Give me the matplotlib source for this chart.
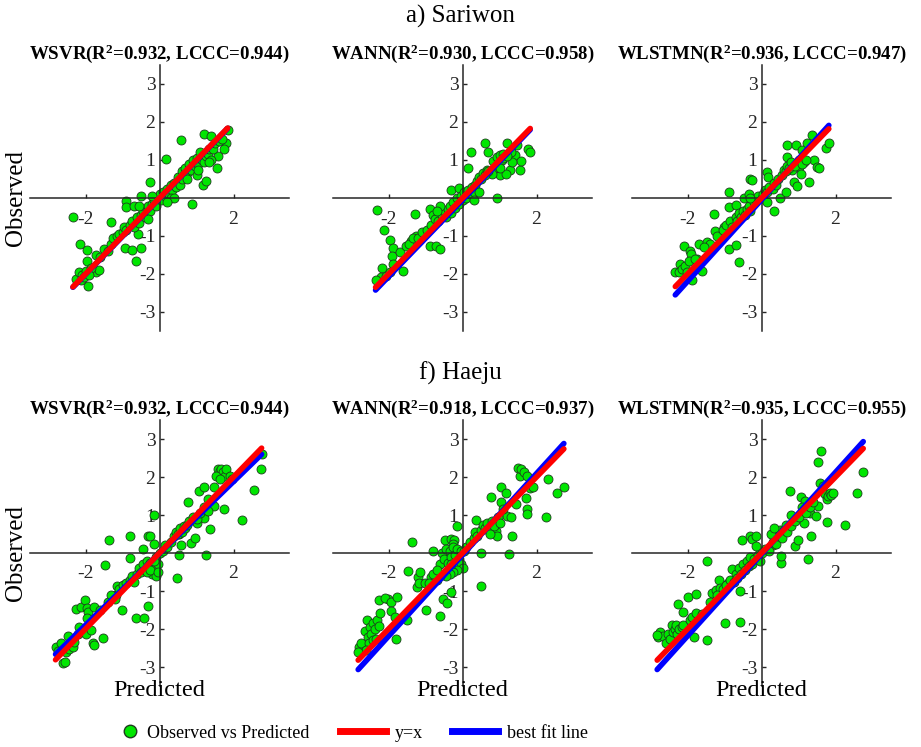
import numpy as np
import matplotlib.pyplot as plt
from matplotlib.lines import Line2D

plt.rcParams['font.family'] = ['Liberation Serif', 'DejaVu Serif']
plt.rcParams['mathtext.fontset'] = 'custom'
plt.rcParams['mathtext.rm'] = 'Liberation Serif:bold'
plt.rcParams['mathtext.it'] = 'Liberation Serif:bold'
plt.rcParams['mathtext.bf'] = 'Liberation Serif:bold'
plt.rcParams['axes.unicode_minus'] = False

stations = ['a) Sariwon', 'f) Haeju']
models = ['WSVR', 'WANN', 'WLSTMN']
r2 = [[0.932, 0.930, 0.936], [0.932, 0.918, 0.935]]
lccc = [[0.944, 0.958, 0.947], [0.944, 0.937, 0.955]]
# best fit lines
fit_slope = [[1.0, 1.01, 1.075], [0.945, 1.07, 1.077]]
fit_intercept = [[-0.01, -0.05, -0.045], [-0.01, -0.05, -0.03]]

# (predicted, observed) pairs
sariwon_wsvr = [
    (-2.34, -0.50), (-0.91, -0.09), (-0.91, -0.24), (-0.68, -0.21), (-0.50, 0.05), (-0.27, 0.42),
    (0.18, 1.03), (0.59, 1.52), (0.89, -0.17), (1.18, 0.34), (1.27, 0.46), (1.21, 1.69),
    (1.39, 1.63), (1.56, 0.79), (1.59, 1.10), (1.81, 1.44), (1.75, 1.28), (-1.32, -0.62),
    (-0.93, -1.32), (-0.73, -1.37), (-0.63, -1.65), (-0.50, -1.31), (-0.59, -0.95), (-2.15, -1.22),
    (-1.97, -1.36), (-1.92, -2.32), (-1.72, -1.96), (-1.63, -1.90), (-1.72, -1.50), (-1.95, -1.66),
    (-2.27, -2.12), (-2.18, -1.94), (-2.09, -2.03), (-2.13, -2.16), (-2.00, -1.92), (-2.04, -2.07),
    (-1.86, -1.85), (-1.90, -2.03), (-1.60, -1.55), (-1.50, -1.35), (-1.40, -1.40), (-1.30, -1.20),
    (-1.25, -1.05), (-1.15, -1.00), (-1.10, -0.95), (-1.00, -0.90), (-0.95, -0.75), (-0.90, -0.85),
    (-0.80, -0.70), (-0.75, -0.60), (-0.70, -0.75), (-0.60, -0.50), (-0.55, -0.65), (-0.50, -0.45),
    (-0.45, -0.35), (-0.40, -0.50), (-0.35, -0.30), (-0.30, -0.20), (-0.25, -0.35), (-0.20, -0.15),
    (-0.15, -0.05), (-0.10, -0.20), (-0.05, 0.00), (0.00, 0.10), (0.05, -0.05), (0.10, 0.15),
    (0.15, 0.05), (0.20, 0.25), (0.25, 0.10), (0.30, 0.35), (0.35, 0.20), (0.40, 0.40),
    (0.45, 0.30), (0.50, 0.55), (0.55, 0.35), (0.60, 0.70), (0.65, 0.60), (0.70, 0.80),
    (0.75, 0.65), (0.80, 0.90), (0.85, 0.75), (0.90, 1.00), (0.95, 0.85), (1.00, 1.05),
    (1.05, 0.90), (1.10, 1.20), (1.15, 1.00), (1.20, 0.95), (1.25, 1.10), (1.30, 1.15),
    (1.35, 1.30), (1.40, 1.00), (1.45, 1.30), (1.50, 1.45), (1.60, 1.50), (1.70, 1.55),
    (1.35, 0.95), (0.30, 0.00), (0.40, 0.00), (0.20, -0.10), (-0.20, 0.05), (-0.55, -0.20),
    (-0.30, -0.55), (0.60, 0.50), (0.75, 0.50), (1.00, 0.60), (1.05, 0.75), (1.84, 1.80),
]
sariwon_wann = [
    (-2.32, -0.31), (-2.11, -0.83), (-1.95, -1.10), (-1.88, -1.32), (-1.90, -1.52), (-1.88, -1.74),
    (-2.17, -1.83), (-2.20, -2.09), (-2.06, -2.05), (-1.97, -1.96), (-1.70, -1.41), (-1.61, -1.92),
    (-1.29, -0.41), (-1.25, -0.99), (-1.52, -1.27), (-1.38, -1.12), (-0.89, -1.25), (-0.71, -1.25),
    (-0.62, -1.34), (-0.89, -0.28), (-0.80, -0.46), (-0.30, 0.20), (-0.09, 0.26), (0.15, 0.78),
    (0.22, 1.22), (0.61, 1.44), (0.70, 1.20), (0.92, 0.00), (1.01, 0.60), (1.19, 1.44),
    (1.28, 0.73), (1.42, 1.13), (1.56, 0.73), (1.57, 0.97), (1.77, 1.29), (1.83, 1.22),
    (1.47, 1.39), (1.18, 0.62), (0.83, 0.97), (0.92, 1.09), (1.01, 1.13), (0.88, 0.78),
    (0.97, 0.86), (1.06, 1.00), (1.10, 1.17), (0.79, 0.64), (1.01, 0.78), (-1.45, -1.20),
    (-1.35, -1.05), (-1.20, -1.05), (-1.10, -0.90), (-0.95, -0.85), (-0.85, -0.70), (-0.75, -0.55),
    (-0.65, -0.60), (-0.55, -0.45), (-0.50, -0.35), (-0.45, -0.50), (-0.40, -0.30), (-0.35, -0.20),
    (-0.30, -0.40), (-0.25, -0.10), (-0.20, -0.25), (-0.15, 0.00), (-0.10, -0.15), (-0.05, 0.05),
    (0.00, -0.05), (0.05, 0.15), (0.10, 0.00), (0.15, 0.20), (0.20, 0.10), (0.25, 0.30),
    (0.30, 0.15), (0.35, 0.35), (0.40, 0.45), (0.45, 0.55), (0.50, 0.50), (0.55, 0.65),
    (0.60, 0.60), (0.65, 0.75), (0.70, 0.70), (1.30, 1.20), (1.35, 0.95), (1.10, 1.05),
    (1.20, 1.10), (-0.60, -0.20), (-0.70, -0.35), (0.30, -0.05), (0.45, 0.15), (-2.35, -2.15),
]
sariwon_wlstmn = [
    (-2.33, -1.94), (-2.24, -1.96), (-2.20, -1.74), (-2.15, -1.87), (-2.06, -1.78), (-2.01, -1.96),
    (-2.10, -1.25), (-1.94, -1.39), (-1.90, -1.47), (-1.88, -2.15), (-1.97, -1.65), (-1.70, -1.21),
    (-1.61, -1.92), (-1.73, -1.61), (-1.47, -1.17), (-1.38, -1.21), (-1.29, -0.41), (-1.25, -0.86),
    (-1.11, -0.99), (-1.02, -0.77), (-0.89, -1.34), (-0.89, 0.16), (-0.89, -0.24), (-0.70, -1.24),
    (-0.61, -1.69), (-0.70, -0.19), (-0.48, 0.00), (-0.30, 0.49), (-0.25, 0.47), (-0.34, 0.11),
    (0.15, 0.69), (0.18, 0.56), (0.33, -0.33), (0.51, 0.00), (0.65, 0.16), (0.70, 1.39),
    (0.70, 1.09), (0.92, 1.39), (0.88, 0.41), (0.97, 0.32), (1.10, 1.26), (1.24, 1.44),
    (1.28, 0.42), (1.37, 1.66), (1.42, 1.00), (1.51, 0.82), (1.55, 0.78), (1.73, 1.31),
    (1.82, 1.44), (1.15, 0.95), (1.01, 0.82), (0.83, 0.73), (1.06, 0.64), (-1.20, -1.00),
    (-1.05, -0.85), (-0.95, -0.70), (-0.85, -0.60), (-0.80, -0.75), (-0.70, -0.50), (-0.65, -0.60),
    (-0.60, -0.40), (-0.55, -0.50), (-0.50, -0.35), (-0.45, -0.45), (-0.40, -0.30), (-0.35, -0.20),
    (-0.30, -0.35), (-0.20, -0.10), (-0.15, -0.05), (-0.10, 0.05), (0.00, 0.00), (0.05, 0.10),
    (0.10, 0.20), (0.15, 0.15), (0.20, 0.30), (0.30, 0.25), (0.35, 0.40), (0.40, 0.35),
    (0.45, 0.50), (0.55, 0.60), (0.60, 0.75), (0.65, 0.70), (0.70, 0.85), (0.75, 0.80),
    (0.80, 0.95), (0.90, 0.85), (1.00, 1.00), (1.10, 0.90), (1.20, 1.00), (-1.55, -1.30),
    (-1.80, -1.60), (-0.30, 0.00), (0.15, -0.10),
]
haeju_wsvr = [
    (-2.81, -2.47), (-2.73, -2.58), (-2.67, -2.38), (-2.61, -2.89), (-2.55, -2.87), (-2.53, -2.60),
    (-2.44, -2.52), (-2.40, -2.38), (-2.35, -2.47), (-2.31, -2.34), (-2.46, -2.19), (-2.26, -1.48),
    (-2.13, -1.41), (-2.01, -1.24), (-1.97, -1.46), (-1.92, -1.54), (-1.95, -1.72), (-2.17, -1.94),
    (-2.19, -2.12), (-1.99, -2.12), (-1.86, -2.03), (-1.81, -2.38), (-1.76, -2.43), (-1.76, -1.41),
    (-1.47, -0.31), (-1.36, 0.35), (-1.52, -2.23), (-1.18, -1.10), (-1.16, -0.88), (-1.01, -1.50),
    (-0.81, 0.46), (-0.81, -0.13), (-0.63, -1.72), (-0.43, -1.70), (-0.30, -1.39), (-0.32, 0.46),
    (-0.25, 0.46), (-0.15, 0.99), (-0.14, 0.25), (-0.45, 0.11), (0.47, -0.66), (0.52, -0.04),
    (0.59, 0.22), (0.54, 0.49), (0.77, 1.34), (0.86, 0.26), (0.95, 0.40), (1.00, 0.79),
    (1.07, 1.63), (1.19, 1.74), (1.27, -0.04), (1.19, 0.93), (1.36, 0.62), (1.47, 1.75),
    (1.47, 1.25), (1.58, 2.21), (1.63, 2.16), (1.67, 2.22), (1.72, 2.12), (1.76, 2.03),
    (1.81, 2.21), (1.54, 2.03), (1.63, 1.94), (1.74, 1.16), (1.90, 2.03), (1.95, 1.94),
    (2.24, 0.86), (2.55, 1.66), (2.73, 2.21), (1.31, 1.41), (-1.60, -1.50), (-1.40, -1.30),
    (-1.30, -1.10), (-1.20, -1.20), (-1.10, -0.95), (-1.00, -0.85), (-0.90, -0.80), (-0.80, -0.70),
    (-0.75, -0.60), (-0.70, -0.75), (-0.60, -0.55), (-0.55, -0.40), (-0.50, -0.50), (-0.45, -0.30),
    (-0.40, -0.45), (-0.35, -0.20), (-0.30, -0.35), (-0.25, -0.25), (-0.20, -0.55), (-0.15, -0.40),
    (-0.10, -0.60), (-0.05, -0.30), (-0.10, -0.10), (0.00, 0.00), (0.10, 0.05), (0.15, 0.20),
    (0.20, 0.15), (0.30, 0.30), (0.40, 0.45), (0.45, 0.55), (0.50, 0.50), (0.55, 0.65),
    (0.60, 0.55), (0.65, 0.70), (0.70, 0.65), (0.75, 0.75), (0.80, 0.85), (0.90, 0.95),
    (1.00, 0.90), (1.10, 1.05), (1.20, 1.20), (1.30, 1.10), (-0.35, -0.50), (-0.25, -0.45),
    (-0.15, -0.20), (-0.05, -0.50), (2.76, 2.60),
]
haeju_wann = [
    (-2.79, -2.47), (-2.75, -2.38), (-2.64, -2.05), (-2.59, -1.77), (-2.55, -2.21), (-2.50, -1.94),
    (-2.46, -2.12), (-2.41, -1.85), (-2.37, -1.99), (-2.31, -1.77), (-2.25, -1.92), (-2.52, -2.38),
    (-2.43, -2.29), (-2.61, -2.54), (-2.34, -2.25), (-2.23, -1.59), (-2.01, -1.22), (-2.25, -1.24),
    (-2.10, -1.19), (-1.92, -1.28), (-1.77, -1.15), (-1.92, -1.53), (-1.83, -1.69), (-1.80, -2.25),
    (-1.51, -1.75), (-1.37, 0.28), (-1.47, -0.48), (-1.24, -0.90), (-1.20, -0.62), (-1.15, -0.49),
    (-1.17, -0.79), (-1.02, -0.79), (-1.00, -1.50), (-0.84, -0.62), (-0.79, 0.04), (-0.61, -1.66),
    (-0.54, -1.22), (-0.41, -1.31), (-0.30, -1.03), (-0.14, 0.71), (-0.48, 0.34), (-0.32, 0.37),
    (-0.23, 0.35), (-0.27, 0.25), (0.51, -0.88), (0.51, 0.00), (0.36, 0.88), (0.76, 1.48),
    (1.05, 1.75), (1.05, 1.34), (1.17, 1.59), (1.19, 0.97), (1.26, -0.03), (1.30, 0.95),
    (1.35, 0.44), (1.44, 1.28), (1.50, 2.25), (1.55, 2.03), (1.59, 2.22), (1.66, 2.14),
    (1.73, 2.03), (1.71, 1.46), (1.73, 1.15), (1.75, 1.02), (1.82, 1.72), (1.91, 1.75),
    (2.25, 0.95), (2.32, 1.94), (2.56, 1.59), (2.74, 1.75), (1.10, 1.15), (0.90, 0.57),
    (0.92, 0.44), (-0.60, -0.30), (-0.55, 0.00), (-0.50, -0.15), (-0.45, 0.10), (-0.40, -0.25),
    (-0.35, 0.05), (-0.30, -0.10), (-0.25, 0.15), (-0.20, -0.05), (-0.15, 0.10), (-0.10, -0.15),
    (-0.05, -0.30), (-0.05, 0.05), (0.00, -0.40), (-0.15, -0.45), (-0.25, -0.50), (-0.35, -0.55),
    (-0.45, -0.60), (-0.60, -0.60), (-0.70, -0.70), (-0.80, -0.55), (-0.90, -0.80), (0.10, 0.15),
    (0.20, 0.30), (0.30, 0.40), (0.35, 0.55), (0.40, 0.45), (0.50, 0.60), (0.55, 0.75),
    (0.60, 0.65), (0.65, 0.80), (0.70, 0.60), (0.80, 0.85), (0.85, 0.70), (0.95, 0.95),
    (1.00, 0.80), (0.75, 0.50), (-0.70, -0.45), (-0.30, -0.30), (0.05, 0.05), (-2.82, -2.60),
]
haeju_wlstmn = [
    (-2.79, -2.21), (-2.75, -2.07), (-2.66, -2.19), (-2.59, -2.37), (-2.52, -2.12), (-2.48, -2.25),
    (-2.43, -1.90), (-2.39, -2.07), (-2.34, -1.99), (-2.30, -1.90), (-2.28, -2.12), (-2.23, -2.01),
    (-2.16, -1.94), (-2.12, -1.90), (-2.25, -1.35), (-2.12, -1.54), (-2.00, -1.15), (-1.94, -1.75),
    (-1.89, -1.69), (-1.83, -2.21), (-1.77, -1.59), (-1.76, -1.08), (-1.47, -0.22), (-1.47, -2.28),
    (-1.35, -1.06), (-1.22, -0.97), (-1.14, -0.71), (-1.11, -0.93), (-1.00, -1.84), (-0.90, -0.79),
    (-0.81, -0.42), (-0.59, -1.81), (-0.59, -1.01), (-0.54, 0.33), (-0.32, 0.44), (-0.27, 0.37),
    (-0.14, 0.44), (-0.15, 0.18), (0.32, 0.22), (0.54, -0.26), (0.54, -0.09), (0.77, 1.63),
    (0.81, 1.01), (0.90, 0.18), (0.99, 0.35), (1.08, 1.48), (1.14, 0.79), (1.17, 1.37),
    (1.27, -0.15), (1.32, 1.06), (1.35, 0.44), (1.47, 0.97), (1.53, 1.25), (1.53, 2.40),
    (1.62, 2.69), (1.58, 1.85), (1.67, 1.77), (1.71, 1.54), (1.76, 1.41), (1.80, 1.50),
    (1.85, 1.59), (1.89, 1.52), (1.76, 0.81), (1.94, 1.59), (2.25, 0.73), (2.57, 1.59),
    (2.75, 2.12), (-1.60, -1.60), (-1.40, -1.30), (-1.20, -1.10), (-1.05, -0.95), (-0.95, -0.85),
    (-0.85, -0.70), (-0.75, -0.75), (-0.70, -0.55), (-0.65, -0.65), (-0.60, -0.40), (-0.55, -0.55),
    (-0.50, -0.30), (-0.45, -0.45), (-0.40, -0.20), (-0.35, -0.35), (-0.30, -0.10), (-0.25, -0.30),
    (-0.20, -0.15), (-0.10, -0.05), (-0.05, -0.20), (0.00, 0.00), (0.10, 0.10), (0.20, 0.05),
    (0.30, 0.30), (0.40, 0.25), (0.45, 0.45), (0.50, 0.60), (0.55, 0.40), (0.60, 0.60),
    (0.65, 0.75), (0.70, 0.55), (0.80, 0.70), (0.90, 0.85), (1.00, 0.95), (1.10, 1.20),
    (1.20, 1.05), (1.30, 1.20), (1.40, 1.35), (0.25, 0.50), (0.35, 0.65), (-2.82, -2.15),
]

panels = [[sariwon_wsvr, sariwon_wann, sariwon_wlstmn],
          [haeju_wsvr, haeju_wann, haeju_wlstmn]]

W, H = 921, 747
ax_left = [30, 333, 632]   # px
ax_top = [65, 420]         # px
ax_w, ax_h = 259, 266

green = '#00e600'
edge = '#1e3c1e'
axcol = '#262626'


def draw_panel(ax, pts, slope, icpt, title):
    pts = np.array(pts)
    pred, obs = pts[:, 0], pts[:, 1]
    ax.scatter(pred, obs, s=42, c=green, edgecolors=edge, linewidths=0.6, zorder=2)
    xx = np.array([pred.min(), pred.max()])
    ax.plot(xx, slope * xx + icpt, color='#0000ff', lw=4, solid_capstyle='round', zorder=3)
    ax.plot(xx, xx, color='#ff0000', lw=4, solid_capstyle='round', zorder=4)

    ax.set_xlim(-3.5, 3.5)
    ax.set_ylim(-3.5, 3.5)
    for s in ['top', 'right']:
        ax.spines[s].set_visible(False)
    for s in ['left', 'bottom']:
        ax.spines[s].set_position(('data', 0))
        ax.spines[s].set_color(axcol)
        ax.spines[s].set_linewidth(1.1)
    ax.set_xticks([-2, 2])
    ax.set_yticks([-3, -2, -1, 1, 2, 3])
    ax.tick_params(axis='both', direction='in', length=3, width=1, color=axcol,
                   labelsize=14, labelcolor=axcol)
    ax.tick_params(axis='x', pad=9)
    ax.tick_params(axis='y', pad=3)
    ax.set_title(title, fontsize=13.6, fontweight='bold', pad=3)


fig = plt.figure(figsize=(W / 100, H / 100), dpi=100)

for r in range(2):
    for c in range(3):
        rect = [ax_left[c] / W, 1 - (ax_top[r] + ax_h) / H, ax_w / W, ax_h / H]
        ax = fig.add_axes(rect)
        title = '%s(R$^{2}$=%.3f, LCCC=%.3f)' % (models[c], r2[r][c], lccc[r][c])
        draw_panel(ax, panels[r][c], fit_slope[r][c], fit_intercept[r][c], title)
        if c == 0:
            ax.text(-0.055, 0.5, 'Observed', transform=ax.transAxes, rotation=90,
                    ha='center', va='center', fontsize=18)
        if r == 1:
            fig.text((ax_left[c] + ax_w / 2) / W, 1 - 690 / H, 'Predicted',
                     ha='center', va='center', fontsize=17.5)

fig.text(0.5, 1 - 16 / H, stations[0], ha='center', va='center', fontsize=18)
fig.text(0.5, 1 - 373 / H, stations[1], ha='center', va='center', fontsize=18)

# legend: marker entry and line entries have different handle lengths
leg_y = 1 - 733 / H
mk = [Line2D([], [], marker='o', ls='none', mfc=green, mec=edge, ms=9)]
leg1 = fig.legend(mk, ['Observed vs Predicted'], loc='center left',
                  bbox_to_anchor=(121 / W, leg_y), frameon=False, fontsize=13,
                  handlelength=1.0, handletextpad=0.45, borderpad=0, borderaxespad=0)
lines = [Line2D([], [], color='#ff0000', lw=5), Line2D([], [], color='#0000ff', lw=5)]
fig.legend(lines, ['y=x', 'best fit line'], loc='center left',
           bbox_to_anchor=(340 / W, leg_y), ncol=2, frameon=False, fontsize=13,
           handlelength=2.55, handletextpad=0.5, columnspacing=1.6,
           borderpad=0, borderaxespad=0)

fig.savefig('out.png', dpi=100)
